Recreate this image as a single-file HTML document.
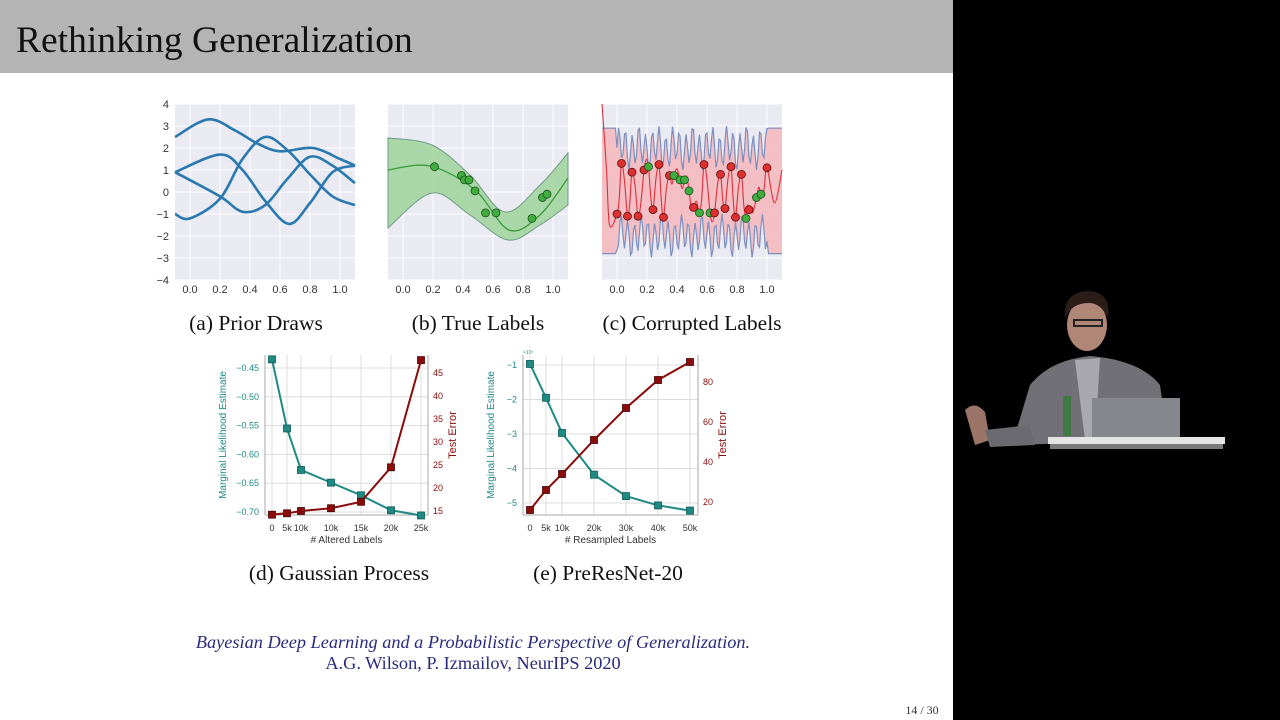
<!DOCTYPE html>
<html><head><meta charset="utf-8"><style>
html,body{margin:0;padding:0;background:#000;}
#s{position:absolute;left:0;top:0;width:1280px;height:720px;overflow:hidden;background:#000;}
svg{position:absolute;left:0;top:0}
</style></head><body><div id="s">
<svg id="g" width="1280" height="720" xmlns="http://www.w3.org/2000/svg" font-family="Liberation Sans, sans-serif">
<rect x="0" y="0" width="953" height="720" fill="#fff"/>
<rect x="0" y="0" width="953" height="73" fill="#b4b4b4"/>
<text x="16" y="52" font-family="Liberation Serif, serif" font-size="37.5" fill="#111">Rethinking Generalization</text>
<!-- speaker -->
<g>
<path d="M1012 445 L1030 385 Q1050 360 1090 356 Q1140 360 1160 385 L1168 440 Z" fill="#707076"/>
<path d="M1075 360 L1085 440 L1095 440 L1100 358 Z" fill="#cfcfd2" opacity="0.6"/>
<ellipse cx="1087" cy="325" rx="20" ry="26" fill="#b08676"/>
<path d="M1065 318 Q1063 292 1088 291 Q1112 292 1108 318 Q1100 302 1088 303 Q1072 303 1065 318Z" fill="#2a1d18"/>
<rect x="1074" y="320" width="28" height="6" fill="none" stroke="#222" stroke-width="2"/>
<path d="M965 410 Q975 400 985 412 L990 440 L975 445 Z" fill="#9a7468"/>
<path d="M985 430 L1030 425 L1035 445 L990 447 Z" fill="#6a6a70"/>
<rect x="1063" y="396" width="8" height="40" fill="#3f7a45"/>
<rect x="1092" y="398" width="88" height="40" fill="#86878c"/>
<rect x="1048" y="437" width="177" height="7" fill="#e4e4e4"/>
<rect x="1050" y="444" width="173" height="5" fill="#7a7a7a"/>
</g>
<g id="plots"></g>
<g font-family="Liberation Serif, serif" font-size="21.5" fill="#111" text-anchor="middle">
<text x="256" y="330">(a) Prior Draws</text>
<text x="478" y="330">(b) True Labels</text>
<text x="692" y="330">(c) Corrupted Labels</text>
<text x="339" y="580">(d) Gaussian Process</text>
<text x="608" y="580">(e) PreResNet-20</text>
<text x="473" y="648" font-style="italic" font-size="18.3" fill="#2b2b7e">Bayesian Deep Learning and a Probabilistic Perspective of Generalization.</text>
<text x="473" y="669" font-size="18.3" fill="#2b2b7e">A.G. Wilson, P. Izmailov, NeurIPS 2020</text>
</g>
<text x="922" y="714" font-family="Liberation Serif, serif" font-size="12" fill="#333" text-anchor="middle">14 / 30</text>
</svg></div>
<script>
var NS="http://www.w3.org/2000/svg",G=document.getElementById("plots");
function el(t,a,txt){var e=document.createElementNS(NS,t);for(var k in a)e.setAttribute(k,a[k]);if(txt!=null)e.textContent=txt;G.appendChild(e);return e;}
function cr(p){var d="M"+p[0][0].toFixed(1)+" "+p[0][1].toFixed(1);for(var i=0;i<p.length-1;i++){var p0=p[i-1]||p[i],p1=p[i],p2=p[i+1],p3=p[i+2]||p2;d+=" C"+(p1[0]+(p2[0]-p0[0])/6).toFixed(1)+" "+(p1[1]+(p2[1]-p0[1])/6).toFixed(1)+" "+(p2[0]-(p3[0]-p1[0])/6).toFixed(1)+" "+(p2[1]-(p3[1]-p1[1])/6).toFixed(1)+" "+p2[0].toFixed(1)+" "+p2[1].toFixed(1);}return d;}
function Y(v){return 192-22*v;}
var X0=[190,403,617];
function panel(i,yt){var x0=X0[i],L=x0-15;el("rect",{x:L,y:104,width:180,height:176,fill:"#eaeaf2"});
for(var v=-4;v<=4;v++)el("line",{x1:L,x2:L+180,y1:Y(v),y2:Y(v),stroke:"#fff","stroke-width":1});
for(var t=0;t<=5;t++){var x=x0+30*t;el("line",{x1:x,x2:x,y1:104,y2:280,stroke:"#fff","stroke-width":1});el("text",{x:x,y:293,"font-size":11,fill:"#333","text-anchor":"middle"},(t/5).toFixed(1));}
if(yt)for(var v=-4;v<=4;v++)el("text",{x:L-6,y:Y(v)+4,"font-size":11,fill:"#333","text-anchor":"end"},v<0?"\u2212"+(-v):v);}
panel(0,1);panel(1,0);panel(2,0);
function P(i,arr){return arr.map(function(q){return [X0[i]+150*q[0],Y(q[1])];});}
[[[-0.1,2.5],[0.12,3.3],[0.3,2.8],[0.45,2.2],[0.6,1.85],[0.82,2.0],[1.0,1.5],[1.1,1.2]],
[[-0.1,-1.0],[0.0,-1.2],[0.2,-0.3],[0.35,1.5],[0.5,2.5],[0.65,1.9],[0.8,0.8],[0.95,-0.2],[1.1,-0.6]],
[[-0.1,0.9],[0.2,1.7],[0.35,1.0],[0.5,-0.4],[0.66,-1.45],[0.8,-0.5],[0.95,0.9],[1.1,1.2]],
[[-0.1,0.9],[0.2,-0.2],[0.35,-0.9],[0.5,-0.6],[0.65,0.6],[0.8,1.6],[0.95,1.2],[1.1,0.4]]].forEach(function(c){el("path",{d:cr(P(0,c)),fill:"none",stroke:"#2a78b0","stroke-width":2.6});});
var up=[[388,138],[432,145],[470,175],[505,212],[540,185],[568,153]],lo=[[388,228],[432,193],[470,215],[508,240],[540,225],[568,205]];
el("path",{d:cr(up)+" L"+cr(lo.slice().reverse()).slice(1)+"Z",fill:"#9fd49a","fill-opacity":0.85,stroke:"#6f9a8a","stroke-width":1});
el("path",{d:cr([[388,170],[430,166],[475,190],[509,230],[540,215],[568,178]]),fill:"none",stroke:"#3a9a3a","stroke-width":1.3});
P(1,[[0.21,1.15],[0.39,0.75],[0.41,0.55],[0.44,0.55],[0.48,0.05],[0.55,-0.95],[0.62,-0.95],[0.86,-1.2],[0.93,-0.25],[0.96,-0.1]]).forEach(function(p){el("circle",{cx:p[0],cy:p[1],r:4,fill:"#3fae3f",stroke:"#1d4d1d","stroke-width":0.8});});
var tu=[],bu=[];
for(var x=602;x<=782;x+=1.5){var d=(x-617)/150,u,b;if(d<0||d>1){u=2.9;b=-2.8;}else{u=2.0+0.8*Math.sin(d*140)+0.25*Math.sin(d*53);b=-2.0-0.75*Math.sin(d*140+1)+0.25*Math.sin(d*47);}tu.push([x,Y(u)]);bu.push([x,Y(b)]);}
var rp=[[0.0,-1],[0.03,1.3],[0.07,-1.1],[0.10,0.9],[0.14,-1.1],[0.18,1.0],[0.21,1.15],[0.24,-0.8],[0.28,1.25],[0.31,-1.15],[0.35,0.75],[0.38,0.75],[0.42,0.55],[0.45,0.55],[0.48,0.05],[0.51,-0.7],[0.55,-0.95],[0.58,1.25],[0.62,-0.95],[0.65,-0.95],[0.69,0.8],[0.72,-0.75],[0.76,1.15],[0.79,-1.15],[0.83,0.8],[0.86,-1.2],[0.88,-0.8],[0.93,-0.25],[0.96,-0.1],[1.0,1.1]];
var pts=[[-0.1,4],[-0.07,1],[-0.05,-1.5]];rp.forEach(function(q,i){pts.push(q);if(i<rp.length-1){var m=(q[0]+rp[i+1][0])/2;pts.push([m,(q[1]+rp[i+1][1])/2+(i%2?0.4:-0.4)]);}});pts.push([1.05,-0.5],[1.1,1.0]);
var line=function(a){return "M"+a.map(function(p){return p[0].toFixed(1)+" "+p[1].toFixed(1);}).join(" L");};
el("path",{d:line(tu)+" L"+line(bu.slice().reverse()).slice(1)+"Z",fill:"#f5b9c0","fill-opacity":0.9});
el("path",{d:line(tu),fill:"none",stroke:"#7d8fbd","stroke-width":1.2});
el("path",{d:line(bu),fill:"none",stroke:"#7d8fbd","stroke-width":1.2});
el("path",{d:cr(P(2,pts)),fill:"none",stroke:"#e0303a","stroke-width":1.1});
var green=[0.21,0.38,0.42,0.45,0.48,0.55,0.62,0.86,0.93,0.96];
rp.forEach(function(q){var g=green.indexOf(q[0])>=0;var p=P(2,[q])[0];el("circle",{cx:p[0],cy:p[1],r:4,fill:g?"#3fae3f":"#dd3030",stroke:g?"#1d4d1d":"#5a1010","stroke-width":0.8});});
function dual(o){var L=o.L,R=o.R,T=355,B=515;
el("rect",{x:L,y:T,width:R-L,height:B-T,fill:"#fff"});
o.xs.forEach(function(x,i){el("line",{x1:x,x2:x,y1:T,y2:B,stroke:"#dcdcdc","stroke-width":1});el("text",{x:x,y:531,"font-size":9,fill:"#333","text-anchor":"middle"},o.xl[i]);});
o.ly.forEach(function(t){el("line",{x1:L,x2:R,y1:t[0],y2:t[0],stroke:"#dcdcdc","stroke-width":1});el("text",{x:L-6,y:t[0]+3,"font-size":9,fill:"#1f8a84","text-anchor":"end"},t[1]);});
o.ry.forEach(function(t){el("text",{x:R+5,y:t[0]+3,"font-size":9,fill:"#8b0a0a"},t[1]);});
el("line",{x1:L,x2:L,y1:T,y2:B,stroke:"#aaa"});el("line",{x1:L,x2:R,y1:B,y2:B,stroke:"#aaa"});el("line",{x1:R,x2:R,y1:T,y2:B,stroke:"#aaa"});
[[o.t,"#1f8a84","#0e5a55"],[o.r,"#8b0a0a","#4a0505"]].forEach(function(s){var p=s[0].map(function(v,i){return o.xs[i]+" "+v;});el("path",{d:"M"+p.join(" L"),fill:"none",stroke:s[1],"stroke-width":2});s[0].forEach(function(v,i){el("rect",{x:o.xs[i]-3.5,y:v-3.5,width:7,height:7,fill:s[1],stroke:s[2],"stroke-width":0.8});});});
var cy=(T+B)/2;
el("text",{x:o.lx,y:cy,"font-size":10,fill:"#1f8a84","text-anchor":"middle",transform:"rotate(-90 "+o.lx+" "+cy+")"},"Marginal Likelihood Estimate");
el("text",{x:o.rx,y:cy,"font-size":11,fill:"#8b0a0a","text-anchor":"middle",transform:"rotate(-90 "+o.rx+" "+cy+")"},"Test Error");
el("text",{x:(L+R)/2,y:543,"font-size":10,fill:"#333","text-anchor":"middle"},o.xt);}
var yd=function(v){return 368+(-0.45-v)/0.05*28.8;},rd=function(v){return 511-(v-15)*4.6;};
dual({L:265,R:428,xs:[272,287,301,331,361,391,421],xl:["0","5k","10k","10k","15k","20k","25k"],
ly:[[-0.45,"−0.45"],[-0.5,"−0.50"],[-0.55,"−0.55"],[-0.6,"−0.60"],[-0.65,"−0.65"],[-0.7,"−0.70"]].map(function(t){return [yd(t[0]),t[1]];}),
ry:[15,20,25,30,35,40,45].map(function(v){return [rd(v),""+v];}),
t:[-0.435,-0.555,-0.627,-0.649,-0.671,-0.697,-0.706].map(yd),r:[14.2,14.5,15,15.6,17,24.5,47.8].map(rd),lx:226,rx:456,xt:"# Altered Labels"});
var ye=function(v){return 365+(-1-v)*34.5;},re=function(v){return 502-(v-20)*2;};
dual({L:523,R:698,xs:[530,546,562,594,626,658,690],xl:["0","5k","10k","20k","30k","40k","50k"],
ly:[-1,-2,-3,-4,-5].map(function(v){return [ye(v),"−"+(-v)];}),
ry:[20,40,60,80].map(function(v){return [re(v),""+v];}),
t:[-0.97,-1.95,-2.97,-4.18,-4.8,-5.07,-5.22].map(ye),r:[16,26,34,51,67,81,90].map(re),lx:494,rx:726,xt:"# Resampled Labels"});
el("text",{x:523,y:354,"font-size":5,fill:"#1f8a84"},"×10⁷");
</script></body></html>
